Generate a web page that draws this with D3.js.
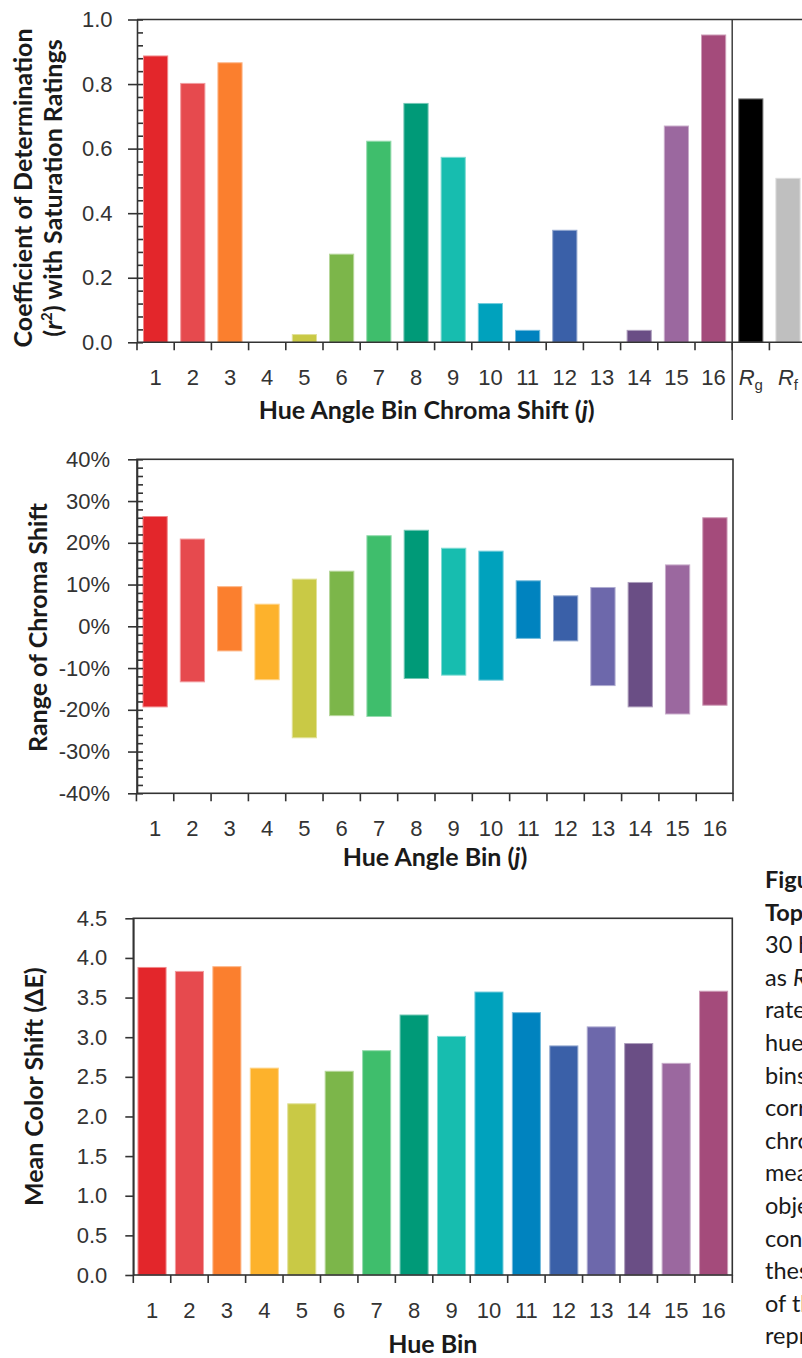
<!DOCTYPE html>
<html>
<head>
<meta charset="utf-8">
<script src="https://cdn.jsdelivr.net/npm/d3@7"></script>
<style>
    body { margin: 0; background: #fff; }
    svg { display: block; font-family: Lato, "Open Sans", sans-serif; }
    .tick text { fill: #333; font-size: 22px; }
    .title { font-weight: bold; font-size: 25px; fill: #1a1a1a; }
    .caption { font-size: 23.5px; fill: #1a1a1a; }
</style>
</head>
<body>
<div id="fig"></div>
<script>
// hue bins and their TM-30 colours
const hueBins = ["1", "2", "3", "4", "5", "6", "7", "8", "9", "10", "11", "12", "13", "14", "15", "16"];
const binColors = ["#e3262b", "#e64a4e", "#fb7f2e", "#fdb22c", "#c9c945", "#7cb64a", "#3fbe6c", "#009a78",
    "#17bdaf", "#00a2bd", "#0083bf", "#3a60a8", "#6d68ab", "#6a4e85", "#9b689f", "#a44b7b"];

// top chart: r^2 with saturation ratings
const r2Categories = hueBins.concat(["Rg", "Rf"]);
const r2Values = [0.887, 0.802, 0.866, 0, 0.024, 0.273, 0.623, 0.740, 0.573, 0.120, 0.037, 0.347, 0, 0.037, 0.670, 0.952, 0.754, 0.508];
const r2Colors = binColors.concat(["#000000", "#bfbfbf"]);
const r2Ticks = [0, 0.2, 0.4, 0.6, 0.8, 1.0];

// middle chart: range of chroma shift (%)
const chromaHigh = [26.3, 20.9, 9.5, 5.3, 11.3, 13.2, 21.7, 23.0, 18.7, 18.0, 10.9, 7.3, 9.3, 10.5, 14.7, 26.0];
const chromaLow = [-19.3, -13.3, -5.9, -12.8, -26.7, -21.4, -21.6, -12.5, -11.7, -12.9, -2.9, -3.5, -14.2, -19.3, -21.0, -18.9];
const chromaTicks = [-40, -30, -20, -10, 0, 10, 20, 30, 40];

// bottom chart: mean colour shift
const meanShift = [3.88, 3.83, 3.89, 2.61, 2.16, 2.57, 2.83, 3.28, 3.01, 3.57, 3.31, 2.89, 3.13, 2.92, 2.67, 3.58];
const shiftTicks = [0, 0.5, 1.0, 1.5, 2.0, 2.5, 3.0, 3.5, 4.0, 4.5];

// caption on the right (cut off by the page edge)
const captionLines = ["Figure 6.", "Top:", "30 hue", "as R", "rated", "hue", "bins", "correlation",
    "chroma", "mean", "objects", "conditions", "these", "of the", "represent"];

const axisColor = "#333";

const svg = d3.select("#fig")
    .append("svg")
    .attr("width", 802)
    .attr("height", 1358);

function styleAxis(g) {
    g.selectAll("path, line").attr("stroke", axisColor).attr("stroke-width", 1.6);
    g.selectAll("text").attr("font-family", null).attr("font-size", null);
}

function edgeX(x, d) {
    // left edge of a band (half the inner padding before the bar)
    return x(d) - (x.step() - x.bandwidth()) / 2;
}

function drawBars(g, x, y, cats, tops, bottoms, colors) {
    g.selectAll("rect.bar")
        .data(cats)
        .enter()
        .append("rect")
        .attr("class", "bar")
        .attr("x", d => x(d))
        .attr("y", (d, i) => y(tops[i]))
        .attr("width", x.bandwidth())
        .attr("height", (d, i) => Math.max(0, y(bottoms[i]) - y(tops[i])))
        .attr("fill", (d, i) => colors[i])
        .attr("stroke", (d, i) => d3.interpolateRgb(colors[i], "#fff")(0.45))
        .attr("stroke-width", 1);
}

function drawBottomTicks(g, x, y0, cats, len) {
    const edges = cats.map(d => edgeX(x, d)).concat([x.range()[1]]);
    g.selectAll("line.xtick")
        .data(edges)
        .enter()
        .append("line")
        .attr("class", "xtick")
        .attr("x1", d => d).attr("x2", d => d)
        .attr("y1", y0).attr("y2", y0 + len)
        .attr("stroke", axisColor)
        .attr("stroke-width", 1.6);
}

function drawXLabels(g, x, y0, cats) {
    const ax = g.append("g")
        .attr("transform", "translate(0," + y0 + ")")
        .call(d3.axisBottom(x).tickSize(0).tickSizeOuter(0));
    ax.select(".domain").remove();
    ax.selectAll("text").attr("y", 43).attr("dy", 0);
    styleAxis(ax);
    return ax;
}

// ---------- chart 1 ----------
const x1 = d3.scaleBand().domain(r2Categories).range([137, 137 + 37.2 * 18]).paddingInner(0.35).paddingOuter(0.175);
const y1 = d3.scaleLinear().domain([0, 1]).range([342.3, 19.5]);
const g1 = svg.append("g");

drawBars(g1, x1, y1, r2Categories, r2Values, r2Values.map(() => 0), r2Colors);

g1.append("line")
    .attr("x1", x1.range()[0]).attr("x2", x1.range()[1])
    .attr("y1", y1(1)).attr("y2", y1(1))
    .attr("stroke", axisColor).attr("stroke-width", 1.6);
g1.append("line")
    .attr("x1", x1.range()[0]).attr("x2", x1.range()[1])
    .attr("y1", y1(0)).attr("y2", y1(0))
    .attr("stroke", axisColor).attr("stroke-width", 1.6);
g1.append("line")
    .attr("x1", edgeX(x1, "Rg")).attr("x2", edgeX(x1, "Rg"))
    .attr("y1", y1(1)).attr("y2", 420)
    .attr("stroke", axisColor).attr("stroke-width", 1.4);

drawBottomTicks(g1, x1, y1(0), r2Categories, 8);

let ax = g1.append("g")
    .attr("transform", "translate(137,0)")
    .call(d3.axisLeft(y1).tickValues(r2Ticks).tickSize(9).tickPadding(15.5).tickSizeOuter(0).tickFormat(d3.format(".1f")));
styleAxis(ax);
ax = g1.append("g")
    .attr("transform", "translate(137,0)")
    .call(d3.axisRight(y1).tickValues(d3.range(0, 1.001, 0.04)).tickSize(6).tickSizeOuter(0).tickFormat(""));
ax.select(".domain").remove();
styleAxis(ax);

ax = drawXLabels(g1, x1, y1(0), r2Categories);
ax.selectAll("text")
    .filter(d => d === "Rg" || d === "Rf")
    .text(null)
    .each(function (d) {
        const t = d3.select(this);
        t.append("tspan").attr("font-style", "italic").text("R");
        t.append("tspan").attr("font-size", "15px").attr("dy", 5).text(d.slice(1));
    });

let t = svg.append("text").attr("class", "title")
    .attr("transform", "translate(31.5,188) rotate(-90)")
    .attr("text-anchor", "middle")
    .text("Coefficient of Determination");
t = svg.append("text").attr("class", "title")
    .attr("transform", "translate(62,188) rotate(-90)")
    .attr("text-anchor", "middle");
t.append("tspan").text("(");
t.append("tspan").attr("font-style", "italic").text("r");
t.append("tspan").attr("font-size", "15px").attr("dy", -10).text("2");
t.append("tspan").attr("dy", 10).text(") with Saturation Ratings");

t = svg.append("text").attr("class", "title")
    .attr("x", 426.7).attr("y", 419)
    .attr("text-anchor", "middle");
t.append("tspan").text("Hue Angle Bin Chroma Shift (");
t.append("tspan").attr("font-style", "italic").text("j");
t.append("tspan").text(")");

// ---------- chart 2 ----------
const x2 = d3.scaleBand().domain(hueBins).range([137, 733]).paddingInner(0.35).paddingOuter(0.16);
const y2 = d3.scaleLinear().domain([-40, 40]).range([793.3, 459.3]);
const g2 = svg.append("g");

drawBars(g2, x2, y2, hueBins, chromaHigh, chromaLow, binColors);

g2.append("rect")
    .attr("x", 137).attr("y", y2(40))
    .attr("width", 733 - 137).attr("height", y2(-40) - y2(40))
    .attr("fill", "none").attr("stroke", axisColor).attr("stroke-width", 1.6);
drawBottomTicks(g2, x2, y2(-40), hueBins, 8);

ax = g2.append("g")
    .attr("transform", "translate(137,0)")
    .call(d3.axisLeft(y2).tickValues(chromaTicks).tickSize(9).tickPadding(18).tickSizeOuter(0).tickFormat(d => d + "%"));
styleAxis(ax);
ax = g2.append("g")
    .attr("transform", "translate(137,0)")
    .call(d3.axisRight(y2).tickValues(d3.range(-40, 40.1, 2)).tickSize(6).tickSizeOuter(0).tickFormat(""));
ax.select(".domain").remove();
styleAxis(ax);

drawXLabels(g2, x2, y2(-40), hueBins);

svg.append("text").attr("class", "title")
    .attr("transform", "translate(46.5,627.5) rotate(-90)")
    .attr("text-anchor", "middle")
    .text("Range of Chroma Shift");
t = svg.append("text").attr("class", "title")
    .attr("x", 435).attr("y", 866)
    .attr("text-anchor", "middle");
t.append("tspan").text("Hue Angle Bin (");
t.append("tspan").attr("font-style", "italic").text("j");
t.append("tspan").text(")");

// ---------- chart 3 ----------
const x3 = d3.scaleBand().domain(hueBins).range([133.3, 732.3]).paddingInner(0.25).paddingOuter(0.125);
const y3 = d3.scaleLinear().domain([0, 4.5]).range([1275, 918.3]);
const g3 = svg.append("g");

drawBars(g3, x3, y3, hueBins, meanShift, meanShift.map(() => 0), binColors);

g3.append("rect")
    .attr("x", 133.3).attr("y", y3(4.5))
    .attr("width", 732.3 - 133.3).attr("height", y3(0) - y3(4.5))
    .attr("fill", "none").attr("stroke", axisColor).attr("stroke-width", 1.6);
drawBottomTicks(g3, x3, y3(0), hueBins, 8);

ax = g3.append("g")
    .attr("transform", "translate(133.3,0)")
    .call(d3.axisLeft(y3).tickValues(shiftTicks).tickSize(8).tickPadding(18).tickSizeOuter(0).tickFormat(d3.format(".1f")));
styleAxis(ax);

drawXLabels(g3, x3, y3(0), hueBins);

svg.append("text").attr("class", "title")
    .attr("transform", "translate(43,1086.7) rotate(-90)")
    .attr("text-anchor", "middle")
    .text("Mean Color Shift (ΔE)");
svg.append("text").attr("class", "title")
    .attr("x", 432.8).attr("y", 1352.7)
    .attr("text-anchor", "middle")
    .text("Hue Bin");

// ---------- caption ----------
const cap = svg.append("g").attr("class", "caption");
captionLines.forEach(function (line, i) {
    const txt = cap.append("text")
        .attr("x", 765)
        .attr("y", 888 + i * 32.6)
        .attr("font-weight", i < 2 ? "bold" : null);
    if (line === "as R") {
        txt.append("tspan").text("as ");
        txt.append("tspan").attr("font-style", "italic").text("R");
    } else {
        txt.text(line);
    }
});
</script>
</body>
</html>
